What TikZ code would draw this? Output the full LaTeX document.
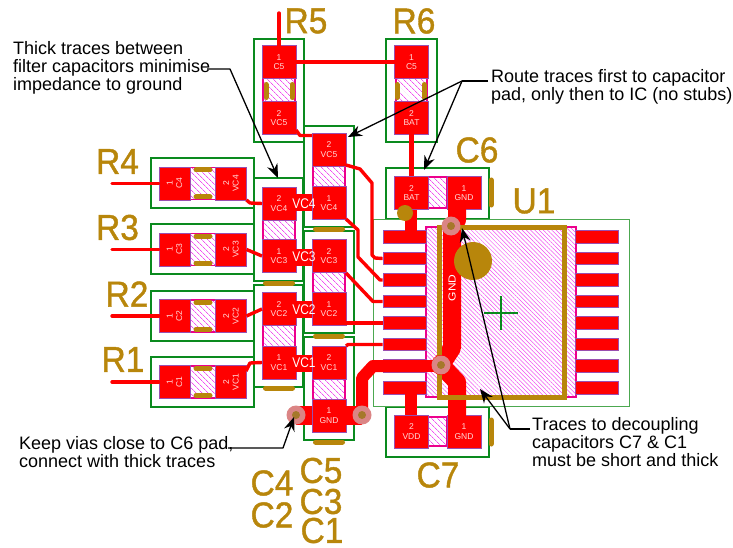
\documentclass[tikz,border=0pt]{standalone}
\usepackage{fontspec}
\setmainfont{Liberation Sans}
\newfontfamily\silkfont[FakeBold=1.2]{Liberation Sans}
\usetikzlibrary{arrows.meta,patterns.meta}
\definecolor{padRed}{HTML}{FF0000}
\definecolor{padEdge}{HTML}{9A4FB0}
\definecolor{hatchPink}{HTML}{F050F0}
\definecolor{silkGold}{HTML}{B8860B}
\definecolor{fpGreen}{HTML}{0A8A1E}
\definecolor{bodyGreen}{HTML}{4CA850}
\definecolor{viaPink}{HTML}{DB8585}
\definecolor{viaCore}{HTML}{A6782A}
\begin{document}
\begin{tikzpicture}[
  x=1pt,y=-1pt,
  font=\fontsize{18}{18}\selectfont,
  fprint/.style={draw=fpGreen,line width=2.3pt},
  body/.style={draw=magenta,line width=1.2pt,pattern={Lines[angle=-45,distance=4pt,line width=.7pt]},pattern color=hatchPink},
  pad/.style={fill=padRed,draw=padEdge,line width=.8pt,inner sep=0pt,outer sep=0pt,align=center,
    minimum width=34pt,minimum height=33pt,text=white!85!red,font=\fontsize{8.5}{9.5}\selectfont},
  rowpad/.style={pad,rotate=90,minimum width=33pt,minimum height=31pt},
  pin/.style={fill=padRed,draw=padEdge,line width=.8pt,inner sep=0pt,minimum width=43pt,minimum height=12.5pt},
  trace/.style={draw=padRed,line width=3.4pt,line join=round},
  thicktrace/.style={draw=padRed,line width=12pt,line join=round},
  gndtrace/.style={draw=padRed,line width=18pt,line join=round},
  strap/.style={draw=padRed,line width=17pt},
  silkbar/.style={draw=silkGold,line width=5pt,line cap=round},
  refdes/.style={text=silkGold,font=\silkfont\fontsize{36}{36}\selectfont,inner sep=0pt,xscale=.93},
  netname/.style={text=white,inner sep=0pt,xscale=.85,font=\fontsize{14}{14}\selectfont},
  callout/.style={align=left,inner sep=0pt,anchor=north west},
  leader/.style={draw=black,line width=1.3pt,line join=round},
  pointer/.style={leader,-{Stealth[length=14pt,width=11pt]}},
  via/.style={circle,fill=viaPink,minimum size=19pt,inner sep=0pt,outer sep=0pt},
  viahole/.style={circle,fill=viaCore,minimum size=8pt,inner sep=0pt}]

\useasboundingbox (0,0) rectangle (733,548);

% Footprint outlines
\draw[fprint] (254,39) rectangle (304,142);
\draw[fprint] (386,39) rectangle (437,142);
\draw[fprint] (386,168) rectangle (489,219);
\draw[fprint] (386,407) rectangle (489,457);
\draw[fprint] (254,178) rectangle (303,281);
\draw[fprint] (254,285) rectangle (303,387);
\draw[fprint] (304,126) rectangle (354,227);
\draw[fprint] (304,231) rectangle (354,333);
\draw[fprint] (304,337) rectangle (354,440);
\draw[draw=bodyGreen,line width=1pt] (373,219) rectangle (629,406);

% Capacitor bodies
\draw[body] (263,76) rectangle (295,104);
\draw[body] (396,76) rectangle (427,104);
\draw[body] (428,177) rectangle (447,208);
\draw[body] (428,417) rectangle (447,446);
\draw[body] (263,219) rectangle (295,240);
\draw[body] (263,325) rectangle (295,347);
\draw[body] (313,165) rectangle (345,187);
\draw[body] (313,272) rectangle (345,293);
\draw[body] (313,378) rectangle (345,400);

% U1 body
\draw[body,pattern={Lines[angle=-45,distance=3pt,line width=.5pt]},pattern color=hatchPink] (426,227) rectangle (576,397);

% U1 pins
\foreach \i/\y in {1/237,2/258.5,3/280,4/301.5,5/323,6/344.5,7/366,8/388} {
  \node[pin] (pinL\i) at (404.5,\y) {};
  \node[pin] (pinR\i) at (597,\y) {};
}

% Pads on the columns
\foreach \n/\x/\y/\t in {
    padRFiveA/279/62/1\\C5, padRFiveB/279/118/2\\VC5,
    padRSixA/411.5/62/1\\C5, padRSixB/411.5/118/2\\BAT,
    padSixB/411.5/193/2\\BAT, padSixA/464/193/1\\GND,
    padSevenB/411.5/431.5/2\\VDD, padSevenA/464/431.5/1\\GND,
    padFourLeft/279/203.5/2\\VC4, padThreeLeft/279/256/1\\VC3,
    padTwoLeft/279/309/2\\VC2, padOneLeft/279/362.5/1\\VC1,
    padFiveTop/329/149.5/2\\VC5, padFourRight/329/203/1\\VC4,
    padThreeRight/329/256/2\\VC3, padTwoRight/329/309/1\\VC2,
    padOneRight/329/362.5/2\\VC1, padGnd/329/415.5/1\\GND}
  \node[pad] (\n) at (\x,\y) {\t};

% Resistors R1 to R4
\foreach \r/\i/\y/\top/\lx/\ly in {R4/4/183.5/158/117.5/161.5,R3/3/249.5/224/117.5/227.5,R2/2/316/291/127/294,R1/1/382/357/123/359.5} {
  \draw[fprint] (151,\top) rectangle (254,\top+50);
  \draw[body] (190,\y-16) rectangle (216,\y+16);
  \draw[silkbar] (196,\y-13.5) -- (210,\y-13.5);
  \draw[silkbar] (196,\y+13.5) -- (210,\y+13.5);
  \node[rowpad] (pad\r a) at (174.5,\y) {1\\C\i};
  \node[rowpad] (pad\r b) at (231,\y) {2\\VC\i};
  \coordinate (lead\r) at (112,\y);
  \draw[trace,line cap=round] (lead\r) -- (pad\r a.north);
  \node[refdes] (ref\r) at (\lx,\ly) {\r};
}

% Thin traces
\coordinate (leadRFive) at (279,13);
\draw[trace,line cap=round] (leadRFive) -- (padRFiveA.north);
\draw[trace] (padRFiveA.east) -- (padRSixA.west);
\draw[trace] (296,130) -- (300,135.5) -- (312,135.5);
\draw[trace,line width=5pt] (padRSixB.south) -- (padSixB.north);
\draw[trace] (padR4b.south west) -- (250,203) -- (padFourLeft.west);
\draw[trace] (padR3b.south) -- (padThreeLeft.west);
\draw[trace] (padR2b.south) -- (padTwoLeft.west);
\draw[trace] (246,371) -- (250,363) -- (padOneLeft.west);
\draw[trace] (346,165) -- (360,169) -- (372,183) -- (372,255) -- (375,258) -- (pinL2.west);
\draw[trace] (346,219) -- (358,230) -- (358,257) -- (380,280) -- (pinL3.west);
\draw[trace] (346,273) -- (373,301.5) -- (pinL4.west);
\draw[trace] (346,323) -- (pinL5.west);
\draw[trace] (346,346) -- (348,344.5) -- (pinL6.west);

% Straps between the pads
\foreach \a/\b/\y in {padFourLeft/padFourRight/202.5,padThreeLeft/padThreeRight/257,padTwoLeft/padTwoRight/309.5,padOneLeft/padOneRight/363.5}
  \draw[strap] (\a.east |- 0,\y) -- (\b.west |- 0,\y);

% Thick traces
\draw[trace,line width=12pt] (411,210) -- (411,232);
\draw[trace,line width=12pt] (411,394) -- (411,415);
\draw[gndtrace] (457,205) -- (457,220) -- (452,226) -- (452,348) -- (441,365) -- (457,382) -- (457,416);
\draw[thicktrace] (426,366) -- (pinL7.west) -- (373,366) -- (362,378) -- (362,415);
\draw[draw=padRed,line width=19pt] (296,415.5) -- (padGnd.west);
\draw[draw=padRed,line width=19pt] (padGnd.east) -- (362,415.5);

% Silkscreen
\foreach \x in {266,292,397,424} \draw[silkbar] (\x,84.5) -- (\x,97.5);
\draw[silkbar] (491,180) -- (491,205);
\draw[silkbar] (491,420) -- (491,444);
\foreach \x/\y in {279/283,279/388,329/229,329/336,329/442} \draw[silkbar] (\x-13.5,\y) -- (\x+13.5,\y);
\draw[silkGold,line width=5pt,line join=miter] (439,227) rectangle (564,397);
\fill[silkGold] (473,261) circle (19);
\fill[silkGold] (405,213) circle (8);
\draw[fpGreen,line width=1.3pt] (484,313) -- (518,313) (501,296) -- (501,330);

% Vias
\fill[padRed] (441,365) circle (10);
\draw[thicktrace] (426,366) -- (441,366);
\foreach \n/\x/\y in {viaLeft/296/415,viaRight/362/415,viaTop/451/226,viaMid/441/365} {
  \node[via] (\n) at (\x,\y) {};
  \node[viahole] at (\n) {};
}

% Net names
\node[netname] (netFour) at (304,204) {VC4};
\node[netname] (netThree) at (304,257) {VC3};
\node[netname] (netTwo) at (304,310) {VC2};
\node[netname] (netOne) at (304,363) {VC1};
\node[netname,xscale=1,rotate=90,font=\fontsize{12}{12}\selectfont] (netGnd) at (452,288) {GND};

% Designators
\node[refdes] (refRFive) at (306,21) {R5};
\node[refdes] (refRSix) at (414,21) {R6};
\node[refdes] (refSix) at (477,150) {C6};
\node[refdes] (refUOne) at (534,201) {U1};
\node[refdes] (refSeven) at (438,475) {C7};
\node[refdes] (refFour) at (272,483) {C4};
\node[refdes] (refTwo) at (272,515) {C2};
\node[refdes] (refFive) at (321,470.5) {C5};
\node[refdes] (refThree) at (321,501.5) {C3};
\node[refdes] (refOne) at (322,530.5) {C1};

% Callouts
\node[callout] (noteFilter) at (13,41) {Thick traces between\\filter capacitors minimise\\impedance to ground};
\node[callout] (noteRoute) at (491,69) {Route traces first to capacitor\\pad, only then to IC (no stubs)};
\node[callout] (noteDecouple) at (532,417) {Traces to decoupling\\capacitors C7 \& C1\\must be short and thick};
\node[callout] (noteVias) at (19,436) {Keep vias close to C6 pad,\\connect with thick traces};

% Arrows
\coordinate (bendFilter) at (230,69);
\coordinate (bendRoute) at (462,81);
\coordinate (bendDecouple) at (510,429);
\coordinate (bendVias) at (283,448);
\coordinate (tipFilter) at (278,178);
\coordinate (tipRouteA) at (348,137);
\coordinate (tipRouteB) at (424,170);
\coordinate (tipDecoupleA) at (462,228);
\coordinate (tipDecoupleB) at (480,389);
\coordinate (tipVias) at (294,417);
\draw[pointer] (207,69) -- (bendFilter) -- (tipFilter);
\draw[leader] (488,81) -- (bendRoute);
\draw[pointer] (bendRoute) -- (tipRouteA);
\draw[pointer] (bendRoute) -- (tipRouteB);
\draw[leader] (530,429) -- (bendDecouple);
\draw[pointer] (bendDecouple) -- (tipDecoupleA);
\draw[pointer] (bendDecouple) -- (tipDecoupleB);
\draw[pointer] (228,448) -- (bendVias) -- (tipVias);
\end{tikzpicture}
\end{document}
